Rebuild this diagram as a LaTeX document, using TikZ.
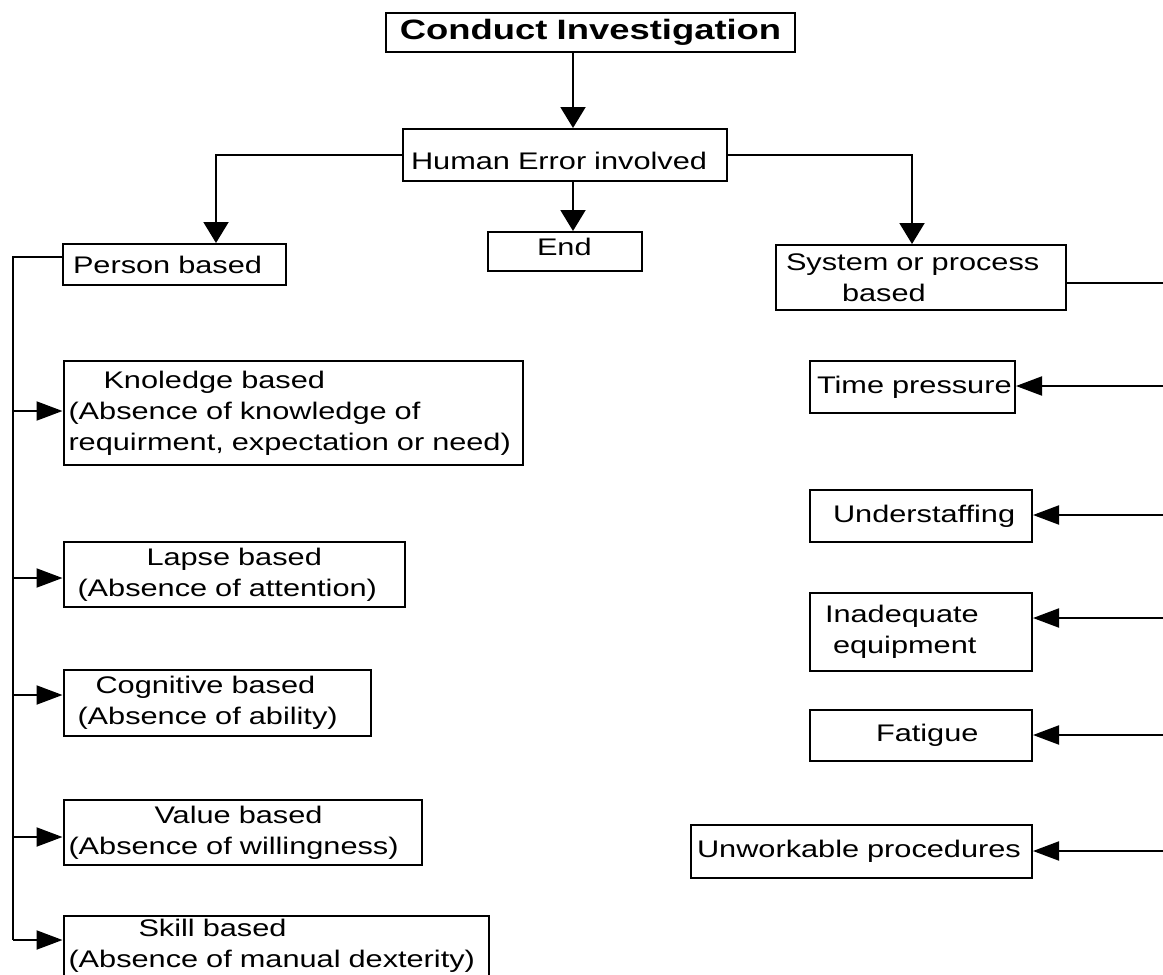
\documentclass[tikz,border=0pt]{standalone}
\usepackage{fontspec}
\setmainfont[FakeStretch=1.28]{Liberation Sans}
\newfontfamily\titlefont[FakeStretch=1.3]{Liberation Sans}
\usetikzlibrary{arrows.meta,calc}
\newcommand\bxl[2]{\hspace*{#1pt}\mbox{#2}}
\newcommand\shiftv[2]{\raisebox{#1}[\height][\depth]{#2}}
\begin{document}
\begin{tikzpicture}[x=1pt,y=-1pt,
  box/.style={draw, line width=2pt, anchor=north west, inner sep=0pt, align=left,
    font=\fontsize{24}{31}\selectfont},
  conn/.style={line width=2pt},
  vtip/.style={conn, -{Triangle[length=21pt,width=25pt]}},
  htip/.style={conn, -{Triangle[length=26pt,width=19pt]}}]
\useasboundingbox (0,0) rectangle (1163,975);
% top
\node[box, text width=409pt, minimum height=39pt, align=center,
  font=\titlefont\bfseries\fontsize{28}{32}\selectfont] (conduct) at (385,12) {Conduct Investigation};
\node[box, text width=324pt, minimum height=52pt] (human) at (402,128) {\bxl{8}{\shiftv{-6pt}{Human Error involved}}};
\node[box, text width=154pt, minimum height=39pt] (endb) at (487,231) {\bxl{49}{\shiftv{5pt}{End}}};
\node[box, text width=223pt, minimum height=41pt] (person) at (62,243) {\bxl{10}{Person based}};
\node[box, text width=290pt, minimum height=65pt] (system) at (775,244) {\bxl{10}{System or process}\\\bxl{66}{based}};
% right column
\node[box, text width=205pt, minimum height=52pt] (timep) at (809,360) {\bxl{7}{Time pressure}};
\node[box, text width=222pt, minimum height=52pt] (under) at (809,489) {\bxl{23}{Understaffing}};
\node[box, text width=222pt, minimum height=78pt] (inad) at (809,592) {\bxl{15}{Inadequate}\\\bxl{23}{equipment}};
\node[box, text width=222pt, minimum height=51pt] (fatigue) at (809,709) {\bxl{66}{Fatigue}};
\node[box, text width=341pt, minimum height=53pt] (unwork) at (690,824) {\bxl{6}{Unworkable procedures}};
% left column
\node[box, text width=459.5pt, minimum height=104pt] (know) at (62.5,360) {\bxl{40}{Knoledge based}\\\bxl{5}{(Absence of knowledge of}\\\bxl{5}{requirment, expectation or need)}};
\node[box, text width=341pt, minimum height=65pt] (lapse) at (62.5,541) {\bxl{83}{Lapse based}\\\bxl{14}{(Absence of attention)}};
\node[box, text width=307.5pt, minimum height=66pt] (cogn) at (62.5,669) {\bxl{32}{Cognitive based}\\\bxl{14}{(Absence of ability)}};
\node[box, text width=358.5pt, minimum height=65pt] (value) at (62.5,799) {\bxl{91}{Value based}\\\bxl{5}{(Absence of willingness)}};
\node[box, text width=425.5pt, minimum height=86pt] (skill) at (62.5,915) {\bxl{75}{Skill based}\\\bxl{5}{(Absence of manual dexterity)}\\\mbox{}};
% helper coordinates
\coordinate (sp) at (573,0);
\coordinate (pbx) at (216,0);
\coordinate (sbx) at (912,0);
\coordinate (r0) at (1163,283);
\coordinate (r1) at (1163,386);
\coordinate (r2) at (1163,515);
\coordinate (r3) at (1163,618);
\coordinate (r4) at (1163,735);
\coordinate (r5) at (1163,851);
\coordinate (lt) at (12.5,257);
\coordinate (l1) at (12.5,411);
\coordinate (l2) at (12.5,578);
\coordinate (l3) at (12.5,695);
\coordinate (l4) at (12.5,837);
\coordinate (l5) at (12.5,940);
% connectors
\draw[vtip] (conduct.south -| sp) -- (human.north -| sp);
\draw[vtip] (human.south -| sp) -- (endb.north -| sp);
\draw[vtip] (human.west) -| (person.north -| pbx);
\draw[vtip] (human.east) -| (system.north -| sbx);
\draw[conn] (system.east |- r0) -- (r0);
\draw[htip] (r1) -- (timep.east |- r1);
\draw[htip] (r2) -- (under.east |- r2);
\draw[htip] (r3) -- (inad.east |- r3);
\draw[htip] (r4) -- (fatigue.east |- r4);
\draw[htip] (r5) -- (unwork.east |- r5);
\draw[conn] (person.west |- lt) -- (lt) -- (l5);
\draw[htip] (l1) -- (know.west |- l1);
\draw[htip] (l2) -- (lapse.west |- l2);
\draw[htip] (l3) -- (cogn.west |- l3);
\draw[htip] (l4) -- (value.west |- l4);
\draw[htip] (l5) -- (skill.west |- l5);
\end{tikzpicture}
\end{document}
